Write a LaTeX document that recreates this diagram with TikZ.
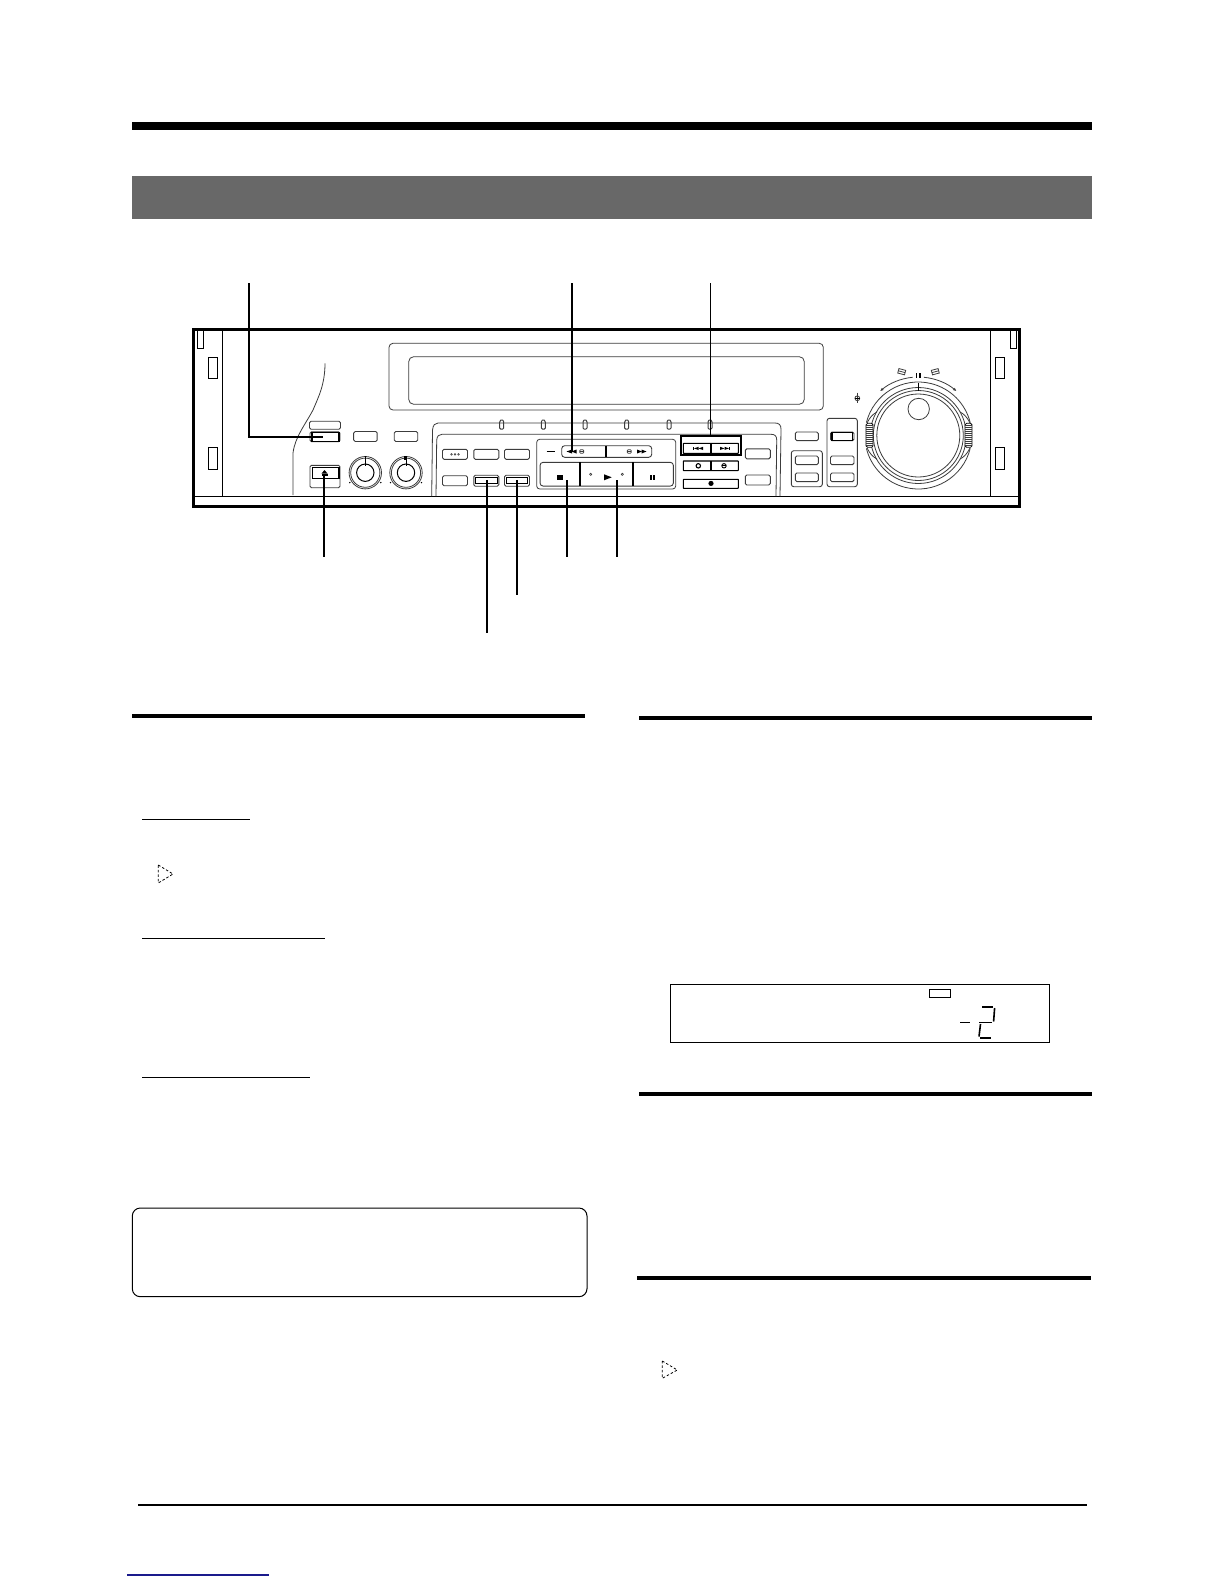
\documentclass[tikz,border=0pt]{standalone}
\usepackage{amsmath,amssymb}
\usetikzlibrary{shapes,arrows.meta}
\definecolor{bandgray}{HTML}{686868}
\definecolor{panelgray}{HTML}{3C3C3C}
\definecolor{linkblue}{HTML}{1A1A8C}

\begin{document}
\begin{tikzpicture}[x=1pt,y=-1pt,line width=1pt]
\tikzstyle{bar}=[fill=black,draw=none];
\tikzstyle{thin}=[draw=panelgray,line width=0.8pt];
\tikzstyle{btn}=[draw=panelgray,line width=0.9pt,rounded corners=1.5pt,inner sep=0pt,minimum width=25pt,minimum height=10pt];
\tikzstyle{skip}=[draw=black,line width=1.1pt,rounded corners=0.5pt,inner sep=0pt,minimum width=55pt];
\tikzstyle{hot}=[draw=black,line width=1.5pt,inner sep=0pt];
\tikzstyle{hotthin}=[draw=black,line width=1pt,inner sep=0pt,minimum width=21.5pt,minimum height=6pt];
\tikzstyle{lead}=[draw=black,line width=1.8pt];
\tikzstyle{glyph}=[fill=black,draw=none];
\tikzstyle{rackslot}=[draw=black,line width=0.9pt];
\tikzstyle{seg}=[line width=1.6pt];

\useasboundingbox (0,0) rectangle (1224,1584);
\fill [white] (0,0) rectangle (1224,1584);

% page rules
\fill [bar] (132,122) rectangle (1092,130);
\fill [fill=bandgray] (132,176) rectangle (1092,219);
\fill [bar] (132,714) rectangle (585,718.3);
\fill [bar] (639,716) rectangle (1092,720.3);
\fill [bar] (639,1091.7) rectangle (1092,1096);
\fill [bar] (637,1276) rectangle (1091,1280);
\fill [bar] (138,1503.8) rectangle (1087,1506.2);
\fill [fill=linkblue] (127,1574.3) rectangle (269,1575.7);
\draw [line width=1pt] (142,819.3) -- (250,819.3);
\draw [line width=1pt] (142,938.3) -- (325,938.3);
\draw [line width=1pt] (142,1077.3) -- (310,1077.3);

% note box, display box
\draw [line width=1pt,rounded corners=8pt] (132.3,1208) rectangle (587,1296.7);
\draw [line width=1pt] (670.3,984.3) rectangle (1049.7,1042.3);
\node [draw,line width=0.9pt,inner sep=0pt,minimum width=21.4pt,minimum height=8.4pt] (tag) at (940,993.5) {};
\draw [seg] (960,1022.3) -- (970,1022.3);
\draw [seg] (982,1006.7) -- (992.7,1006.7);
\draw [seg] (994.6,1008) -- (993.6,1021.5);
\draw [seg] (979,1022.3) -- (991.5,1022.3);
\draw [seg] (980.5,1024) -- (979,1036.5);
\draw [seg] (980,1037.7) -- (990.7,1037.7);

% hint triangles
\draw [dashed,line width=0.8pt,dash pattern=on 2.5pt off 2pt] (158.3,865) -- (173,874) -- (158.3,883) -- cycle;
\draw [dashed,line width=0.8pt,dash pattern=on 2.5pt off 2pt] (662.3,1361) -- (677.3,1370) -- (662.3,1378.3) -- cycle;

% deck body
\draw [line width=3pt] (193.3,329.3) rectangle (1019.3,506.7);
\draw [line width=0.9pt] (193.3,496.3) -- (1019.3,496.3);
\draw [line width=0.9pt] (222.3,329.3) -- (222.3,496.3);
\draw [line width=0.9pt] (990.3,329.3) -- (990.3,496.3);
\foreach \xa/\xb in {197.3/203.7,1010.3/1016.7}
  \draw [rackslot] (\xa,329.3) rectangle (\xb,348.3);
\foreach \xa/\xb in {208.3/217.7,995.7/1004.7} {
  \draw [rackslot] (\xa,357.3) rectangle (\xb,378.7);
  \draw [rackslot] (\xa,447) rectangle (\xb,469.3);
}
\draw [thin] (325,363.3) .. controls (325,385) and (318,398) .. (313,410)
  .. controls (305,425) and (295,437) .. (293,453) -- (293,495);

% tape window
\draw [thin,rounded corners=4pt] (389,343.3) rectangle (823.3,410);
\draw [thin,rounded corners=5pt] (408.7,356.7) rectangle (804.3,404.3);

% left buttons, eject, knobs
\node [btn,minimum width=31pt,minimum height=8pt] (memo) at (325,425.2) {};
\node [btn,minimum width=30pt] (powerbtn) at (325,436.7) {};
\node [hot,line width=1.2pt,minimum width=27pt,minimum height=9pt] (powerkey) at (325.5,436.7) {};
\node [btn,minimum width=23.5pt] (tcbtn) at (365.4,436.5) {};
\node [btn,minimum width=23.5pt] (monbtn) at (406,436.5) {};
\node [btn,minimum width=30pt,minimum height=22.4pt] (ejectbtn) at (325,476.5) {};
\node [hot,line width=1.2pt,minimum width=26.7pt,minimum height=11.4pt] (ejectkey) at (325.6,473) {};
\fill [glyph] (321.5,473.5) -- (324.5,470) -- (327.5,473.5) -- cycle;
\fill [glyph] (321.5,474.3) rectangle (327.5,475.5);
\foreach \kx in {365.3,406} {
  \draw [thin] (\kx,472.7) circle (16.2);
  \draw [thin] (\kx,472.7) circle (14.6);
  \draw [line width=1pt] (\kx,472.7) circle (8.7);
  \fill [glyph] (\kx-15.5,482.6) circle (0.8);
  \fill [glyph] (\kx+15.5,482.6) circle (0.8);
}
\draw [line width=1.2pt] (365.3,456) -- (365.3,466);
\draw [line width=0.8pt] (406,456) -- (406,466);
\draw [line width=1.2pt] (405,456) -- (405,460);

% control panel
\draw [thin] (431.7,496.3) -- (432.5,430) .. controls (433,425) and (435,423) .. (438,423)
  -- (775,423) .. controls (779,423) and (781,425) .. (781,429) -- (780,496.3);
\draw [thin] (436,496.3) -- (436.7,440) .. controls (437,436) and (439,434.3) .. (442,434.3)
  -- (771,434.3) .. controls (775,434.3) and (776.7,436) .. (776.7,440) -- (776,496.3);
\foreach \ledx in {501.7,543.3,585,626.7,669,710}
  \draw [draw=panelgray,line width=1pt,rounded corners=1pt] (\ledx-2,429) -- (\ledx-2,421) -- (\ledx,419.5) -- (\ledx+2,421) -- (\ledx+2,429) -- cycle;

\node [btn] (dots) at (455,454.3) {};
\foreach \dx in {-3.5,0,3.5}
  \draw [thin,line width=0.5pt] (455+\dx,454.3) circle (0.9);
\node [btn] (prev) at (486.3,454.3) {};
\node [btn] (nextb) at (517,454.3) {};
\node [btn] (menu) at (455,480.7) {};
\node [btn,minimum height=11pt] (slow) at (486.3,480.7) {};
\node [hotthin] (slowkey) at (486.3,480) {};
\node [btn,minimum height=11pt] (still) at (517,480.7) {};
\node [hotthin] (stillkey) at (517,480) {};
\node [btn] (sideA) at (757.8,453.8) {};
\node [btn] (sideB) at (757.8,480) {};

% transport block
\draw [thin,rounded corners=3pt] (536.7,439.3) rectangle (675.7,489);
\draw [line width=1pt] (546.7,451.7) -- (555,451.7);
\node [btn,minimum width=90pt,minimum height=11.6pt,rounded corners=3pt] (shuttle) at (606.7,451.5) {};
\draw [line width=1.2pt] (606,445.7) -- (606,457.3);
\fill [glyph] (572,449.5) -- (572,453.5) -- (566.5,451.5) -- cycle;
\fill [glyph] (576.5,449.5) -- (576.5,453.5) -- (571.5,451.5) -- cycle;
\draw [thin,line width=0.7pt,rounded corners=0.8pt] (579.7,449.8) rectangle (583.7,453.2);
\draw [thin,line width=0.5pt] (579.7,451.5) -- (583.7,451.5);
\draw [thin,line width=0.7pt,rounded corners=0.8pt] (627.3,449.8) rectangle (631.3,453.2);
\draw [thin,line width=0.5pt] (627.3,451.5) -- (631.3,451.5);
\fill [glyph] (637,449.5) -- (637,453.5) -- (642,451.5) -- cycle;
\fill [glyph] (641.5,449.5) -- (641.5,453.5) -- (646.5,451.5) -- cycle;
\node [btn,minimum width=133.3pt,minimum height=23.7pt,rounded corners=3pt] (transport) at (606.7,474.2) {};
\draw [line width=1.6pt] (580,462.3) -- (580,486);
\draw [line width=1.8pt] (633,462.3) -- (633,486);
\fill [glyph] (557.3,475) rectangle (562.7,479.7);
\fill [glyph] (604,474.3) -- (604,480.3) -- (611.7,477.3) -- cycle;
\draw [thin,line width=0.6pt] (590.7,474.3) circle (1.1);
\draw [thin,line width=0.6pt] (622.3,474.3) circle (1.1);
\fill [glyph] (650,475) rectangle (651.8,479.7);
\fill [glyph] (653.3,475) rectangle (655.1,479.7);

% skip block
\node [draw,line width=1.8pt,inner sep=0pt,minimum width=60.3pt,minimum height=19.3pt] (skipframe) at (710.8,445.3) {};
\node [skip,minimum height=10pt] (skipbtn) at (710.8,448.3) {};
\draw [line width=1.3pt] (711,443.3) -- (711,453.3);
\fill [glyph] (693,446.8) rectangle (693.8,450);
\fill [glyph] (698.5,446.8) -- (698.5,450) -- (694,448.4) -- cycle;
\fill [glyph] (703,446.8) -- (703,450) -- (698.5,448.4) -- cycle;
\fill [glyph] (720,446.8) -- (720,450) -- (724.5,448.4) -- cycle;
\fill [glyph] (724.5,446.8) -- (724.5,450) -- (729,448.4) -- cycle;
\fill [glyph] (729.2,446.8) rectangle (730,450);
\node [skip,minimum height=9.7pt] (markbtn) at (710.8,465.8) {};
\draw [line width=1.3pt] (711,461) -- (711,470.7);
\draw [line width=1.1pt] (698.3,465.8) circle (2.2);
\draw [line width=0.9pt] (724,465.8) circle (2.2);
\draw [line width=0.9pt] (721.6,465.8) -- (726.4,465.8);
\node [skip,minimum height=9pt] (recbtn) at (710.8,483.8) {};
\fill [glyph] (711,483.4) circle (2.6);

% right block
\node [btn,minimum width=23pt,minimum height=8.7pt] (shtl) at (806.8,436.3) {};
\draw [thin,line width=0.9pt,rounded corners=2.5pt] (791.3,450.7) rectangle (822.3,486.7);
\node [btn,minimum width=23pt,minimum height=8.7pt] (jogA) at (806.8,460.3) {};
\node [btn,minimum width=23pt,minimum height=8.7pt] (jogB) at (806.8,477.3) {};
\draw [thin,line width=0.9pt,rounded corners=2.5pt] (827,418.3) rectangle (857.3,486.7);
\node [btn,minimum width=23.5pt,minimum height=8.7pt] (jogsel) at (842.2,436.3) {};
\node [hot,minimum width=20.5pt,minimum height=8pt] (jogkey) at (842.2,436.3) {};
\node [btn,minimum width=23.5pt,minimum height=8.7pt] (jogC) at (842.2,460.3) {};
\node [btn,minimum width=23.5pt,minimum height=8.7pt] (jogD) at (842.2,477.3) {};
\draw [thin] (857.3,398.3) circle (2.4);
\draw [thin] (857.3,392.7) -- (857.3,403.3);
\draw [line width=0.6pt] (855,398.3) -- (859.6,398.3);

% jog dial
\coordinate (dial) at (918.3,435.5);
\draw [thin] (dial) circle (41.5);
\draw [thin] (dial) circle (45);
\draw [thin] (dial) circle (48);
\draw [thin] (dial) ++(-166:53.5) arc (-166:-14:53.5);
\draw [thin] (dial) ++(14:53.5) arc (14:166:53.5);
\draw [thin] (918.7,409) circle (10.7);
\draw [line width=1.6pt] (918.3,382.7) -- (918.3,390.7);
\fill [glyph] (915.6,372.5) rectangle (917.4,378);
\fill [glyph] (919.2,372.5) rectangle (921,378);
\draw [thin,-{Latex[length=3.5pt,width=3pt]}] (dial) ++(-95.5:58.5) arc (-95.5:-130.8:58.5);
\draw [thin,-{Latex[length=3.5pt,width=3pt]}] (dial) ++(-84.5:58.5) arc (-84.5:-49.2:58.5);
\draw [thin,rotate around={-15:(901.7,371.7)}] (898.2,369.4) rectangle (905.2,374);
\draw [thin,rotate around={-15:(901.7,371.7)}] (898.2,371.7) -- (905.2,371.7);
\draw [thin,rotate around={15:(935.3,371.7)}] (931.8,369.4) rectangle (938.8,374);
\draw [thin,rotate around={15:(935.3,371.7)}] (931.8,371.7) -- (938.8,371.7);
\draw [thin] (867,423) .. controls (870,417) and (873,414) .. (877,412);
\draw [thin] (867,448) .. controls (870,454) and (873,457) .. (877,459);
\draw [thin] (970,423) .. controls (967,417) and (964,414) .. (960,412);
\draw [thin] (970,448) .. controls (967,454) and (964,457) .. (960,459);
\foreach \gx in {866,965} {
  \draw [line width=0.8pt,rounded corners=1.5pt,fill=white] (\gx,423.3) rectangle (\gx+7,447.3);
  \foreach \gy in {425,427,...,446}
    \draw [line width=0.9pt,draw=panelgray] (\gx,\gy) -- (\gx+7,\gy);
}

% leaders
\coordinate (topA) at (249,283);
\coordinate (topB) at (571.7,283);
\coordinate (topC) at (710.7,283);
\coordinate (endA) at (322.7,436.7);
\coordinate (endB) at (571.7,451.7);
\coordinate (endE) at (324,476);
\coordinate (endF) at (486.7,480);
\coordinate (endG) at (517.3,480);
\coordinate (endH) at (567.3,480);
\coordinate (endI) at (617,480);
\coordinate (botE) at (324,557);
\coordinate (botF) at (486.7,633);
\coordinate (botG) at (517.3,595);
\coordinate (botH) at (567.3,557);
\coordinate (botI) at (617,557);
\draw [lead] (topA) |- (endA);
\draw [lead] (topB) -- (endB);
\draw [lead,line width=1.3pt] (topC) -- (skipframe.north -| topC);
\draw [lead] (endE) -- (botE);
\draw [lead] (endF) -- (botF);
\draw [lead] (endG) -- (botG);
\draw [lead] (endH) -- (botH);
\draw [lead] (endI) -- (botI);
\end{tikzpicture}
\end{document}
